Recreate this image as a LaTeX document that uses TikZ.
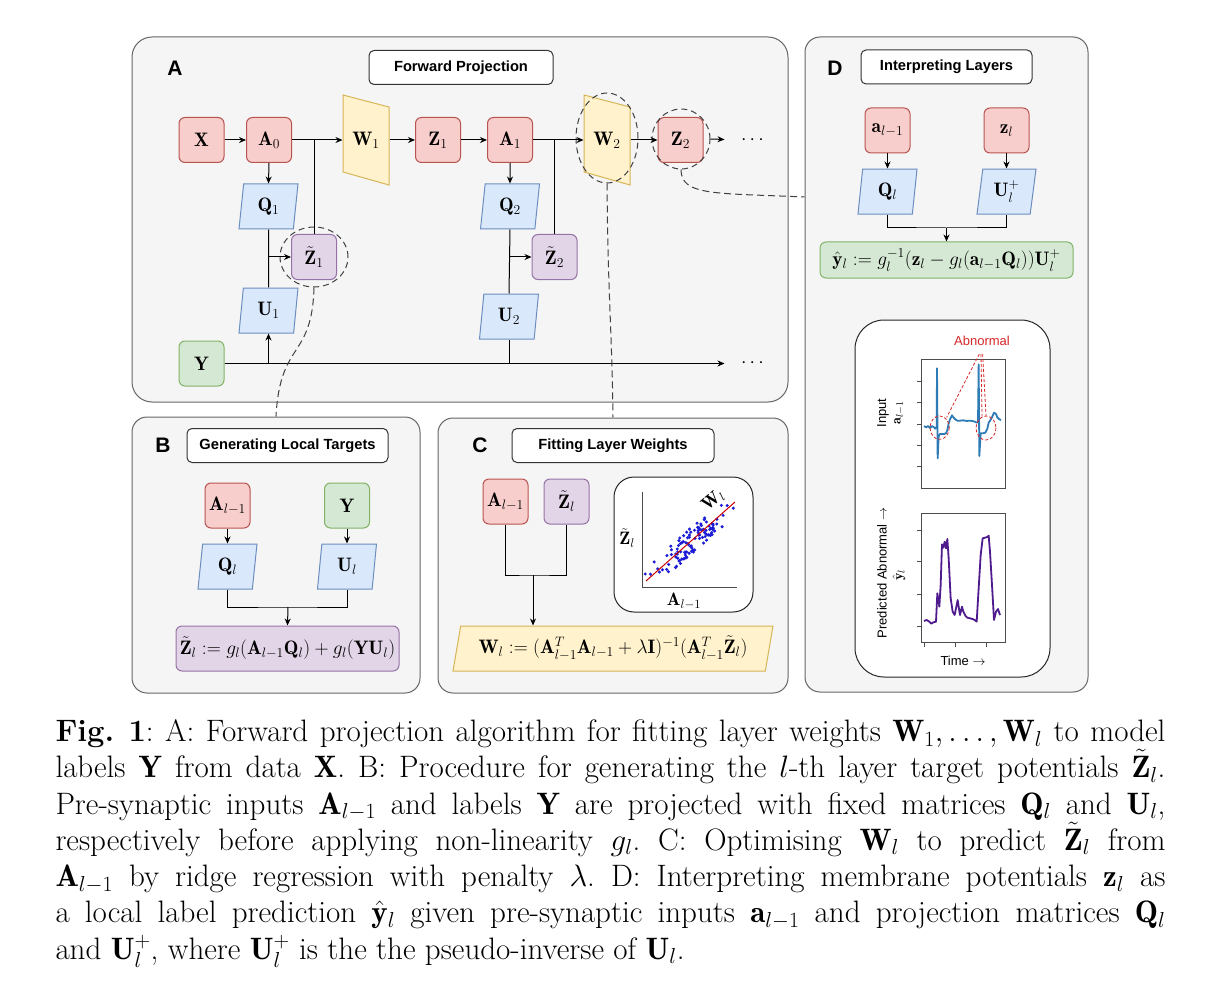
\documentclass[tikz,border=0pt]{standalone}
\usepackage{fix-cm}
\usepackage{amsmath}
\usepackage{fontspec}
\newfontfamily\helv{Liberation Sans}
\usetikzlibrary{arrows.meta, positioning, shapes.geometric, calc}

\definecolor{redfill}{HTML}{F8CECC}
\definecolor{redline}{HTML}{B85450}
\definecolor{yellowfill}{HTML}{FFF2CC}
\definecolor{yellowline}{HTML}{D6B656}
\definecolor{bluefill}{HTML}{DAE8FC}
\definecolor{blueline}{HTML}{6C8EBF}
\definecolor{greenfill}{HTML}{D5E8D4}
\definecolor{greenline}{HTML}{82B366}
\definecolor{purplefill}{HTML}{E1D5E7}
\definecolor{purpleline}{HTML}{9673A6}
\definecolor{panelfill}{HTML}{F5F5F5}
\definecolor{panelline}{HTML}{666666}
\definecolor{ecgblue}{HTML}{2F7BB5}
\definecolor{predpurple}{HTML}{4E1A8E}
\definecolor{dotblue}{HTML}{1C1CD6}
\definecolor{abnred}{HTML}{D62728}

\newcommand\mathsz{\fontsize{19.5}{23}\selectfont}
\newcommand\titlesz{\helv\bfseries\fontsize{14.7}{17}\selectfont}
\newcommand\lettersz{\helv\bfseries\fontsize{21}{24}\selectfont}
\newcommand\plotsz{\helv\fontsize{13}{15}\selectfont}
\newcommand\capsz{\fontsize{31}{36.3}\selectfont\frenchspacing}

\tikzset{
  panel/.style={draw=panelline, fill=panelfill, inner sep=0pt},
  titlebox/.style={draw=black!80, fill=white, rounded corners=5pt, minimum height=34pt, inner sep=0pt, font=\titlesz},
  letter/.style={font=\lettersz, inner sep=0pt},
  cellbox/.style={rounded corners=6pt, minimum width=45pt, minimum height=45pt, inner sep=0pt, font=\mathsz},
  redbox/.style={cellbox, draw=redline, fill=redfill},
  greenbox/.style={cellbox, draw=greenline, fill=greenfill},
  purplebox/.style={cellbox, draw=purpleline, fill=purplefill},
  para/.style={trapezium, trapezium stretches body, trapezium left angle=75, trapezium right angle=105,
    minimum width=59pt, minimum height=45pt, inner sep=0pt, draw=blueline, fill=bluefill, font=\mathsz},
  wshape/.style={draw=yellowline, fill=yellowfill},
  wlabel/.style={minimum width=46pt, minimum height=90pt, inner sep=0pt, font=\mathsz},
  ring/.style={ellipse, draw=black!75, dash pattern=on 6pt off 4pt, inner sep=0pt},
  dashlink/.style={draw=black!75, dash pattern=on 7pt off 4pt},
  whitebox/.style={draw=black!85, fill=white, inner sep=0pt},
  plotframe/.style={draw=black!70, line width=0.8pt},
  plotlab/.style={font=\plotsz, inner sep=0pt},
  scatlab/.style={font=\fontsize{18}{21}\selectfont, inner sep=0pt},
  abnline/.style={draw=abnred, line width=0.8pt, dash pattern=on 3pt off 2pt}
}

\begin{document}
\begin{tikzpicture}[x=1pt, y=-1pt, line width=1pt, >={Stealth[length=7pt,width=6pt]}]
\useasboundingbox (0,0) rectangle (1221,995);

% panels
\node[panel, minimum width=656pt, minimum height=365pt, rounded corners=20pt] (pA) at (460,219.5) {};
\node[panel, minimum width=288pt, minimum height=276pt, rounded corners=15pt] (pB) at (276,555) {};
\node[panel, minimum width=350pt, minimum height=275pt, rounded corners=15pt] (pC) at (613,555.5) {};
\node[panel, minimum width=283pt, minimum height=655pt, rounded corners=15pt] (pD) at (946.5,364.5) {};

\node[letter] (lA) at (175,68) {A};
\node[letter] (lB) at (163,445) {B};
\node[letter] (lC) at (480,445) {C};
\node[letter] (lD) at (835,68) {D};
\node[titlebox, minimum width=184pt] (tA) at (461,67.5) {Forward Projection};
\node[titlebox, minimum width=201pt] (tB) at (287.5,445.5) {Generating Local Targets};
\node[titlebox, minimum width=202pt] (tC) at (613,445.5) {Fitting Layer Weights};
\node[titlebox, minimum width=171pt] (tD) at (946.5,67) {Interpreting Layers};

% A: forward projection
\draw[wshape] (343,95) -- (389,107) -- (389,185) -- (343,172) -- cycle;
\draw[wshape] (584,95) -- (630,107) -- (630,185) -- (584,172) -- cycle;
\node[redbox] (x) at (201.5,140) {$\mathbf{X}$};
\node[redbox] (a0) at (269,140) {$\mathbf{A}_0$};
\node[wlabel] (w1) at (366,140) {$\mathbf{W}_1$};
\node[redbox] (z1) at (438,140) {$\mathbf{Z}_1$};
\node[redbox] (a1) at (510,140) {$\mathbf{A}_1$};
\node[wlabel] (w2) at (607,140) {$\mathbf{W}_2$};
\node[redbox] (z2) at (680.5,140) {$\mathbf{Z}_2$};
\node[font=\mathsz, inner sep=0pt] (dots1) at (754,140) {$\cdots$};
\node[para] (q1) at (268.5,206.5) {$\mathbf{Q}_1$};
\node[purplebox] (z1t) at (314,257) {$\tilde{\mathbf{Z}}_1$};
\node[para] (u1) at (268.5,310.5) {$\mathbf{U}_1$};
\node[greenbox] (y) at (201.5,363.5) {$\mathbf{Y}$};
\node[para] (q2) at (510,206.5) {$\mathbf{Q}_2$};
\node[purplebox] (z2t) at (554.5,257) {$\tilde{\mathbf{Z}}_2$};
\node[para] (u2) at (509,316.5) {$\mathbf{U}_2$};
\node[font=\mathsz, inner sep=0pt] (dots2) at (754,363.5) {$\cdots$};
\node[ring, minimum width=68pt, minimum height=60pt] (z1ring) at (z1t) {};
\node[ring, minimum width=62pt, minimum height=90pt] (w2ring) at (607,138) {};
\node[ring, minimum width=58pt, minimum height=60pt] (z2ring) at (681,139) {};

\draw[->] (x.east) -- (a0.west);
\draw[->] (a0.east) -- (w1.west);
\draw[->] (w1.east) -- (z1.west);
\draw[->] (z1.east) -- (a1.west);
\draw[->] (a1.east) -- (w2.west);
\draw[->] (w2.east) -- (z2.west);
\draw[->, shorten >=16pt] (z2ring.east) -- (dots1.west);
\draw[->] (a0.south) -- (q1.north);
\draw[->] (a1.south) -- (q2.north);
\draw (z1t.north |- a0.east) -- (z1t.north);
\draw (z2t.north |- a1.east) -- (z2t.north);
\draw (q1.south) -- (u1.north);
\draw (q2.south) -- (u2.north);
\draw[->] (q1.south |- z1t.west) -- (z1t.west);
\draw[->] (q2.south |- z2t.west) -- (z2t.west);
\draw[->, shorten >=16pt] (y.east) -- (dots2.west);
\draw[->] (u1.south |- y.east) -- (u1.south);
\draw (u2.south) -- (u2.south |- y.east);

% links to the detail panels
\coordinate (dIn) at (pD.west |- 0,197);
\draw[dashlink] (z1ring.south) .. controls (312,360) and (280,340) .. (pB.north);
\draw[dashlink] (w2ring.south) .. controls (608,300) and (612,330) .. (pC.north);
\draw[dashlink] (z2ring.south) .. controls (681,196) and (715,193) .. (dIn);

% B: local targets
\node[redbox] (alB) at (227.5,505.5) {$\mathbf{A}_{l-1}$};
\node[greenbox] (yB) at (347,505.5) {$\mathbf{Y}$};
\node[para, below=15pt of alB] (qlB) {$\mathbf{Q}_l$};
\node[para, below=15pt of yB] (ulB) {$\mathbf{U}_l$};
\node[purplebox, minimum width=223pt] (formB) at (287.5,648.5) {$\tilde{\mathbf{Z}}_l := g_l(\mathbf{A}_{l-1}\mathbf{Q}_l) + g_l(\mathbf{Y}\mathbf{U}_l)$};
\coordinate (bJoin) at (288,607);
\draw[->] (alB.south) -- (qlB.north);
\draw[->] (yB.south) -- (ulB.north);
\draw (qlB.south) |- (bJoin) -| (ulB.south);
\draw[->] (bJoin) -- (formB.north);

% C: layer weights
\node[redbox] (alC) at (505.5,501.5) {$\mathbf{A}_{l-1}$};
\node[purplebox, right=15pt of alC] (ztC) {$\tilde{\mathbf{Z}}_l$};
\node[para, draw=yellowline, fill=yellowfill, minimum width=320pt, trapezium left angle=72.7, trapezium right angle=107.3] (formC) at (613,648.5)
  {$\mathbf{W}_l := (\mathbf{A}_{l-1}^T\mathbf{A}_{l-1} + \lambda\mathbf{I})^{-1}(\mathbf{A}_{l-1}^T\tilde{\mathbf{Z}}_l)$};
\coordinate (cJoin) at (533,575);
\draw (alC.south) |- (cJoin) -| (ztC.south);
\draw[->] (cJoin) -- (cJoin |- formC.north);

\node[whitebox, minimum width=139pt, minimum height=135pt, rounded corners=20pt] (scbox) at (683.5,544.5) {};
\draw[plotframe] (642,492) -- (642,587) -- (737,587);
\coordinate (sc0) at (646,581);
\coordinate (sc1) at (735,502);
\pgfmathsetseed{7}
\foreach \k in {1,...,110}{
  \pgfmathsetmacro\tpos{\k<35 ? 0.03+0.94*rnd : 0.3+0.45*rnd}
  \pgfmathsetmacro\noff{10*rand}
  \fill[dotblue] ($(sc0)!\tpos!(sc1)$) ++(0.66*\noff,0.75*\noff) circle (1.7pt);
}
\draw[red!80!black] (sc0) -- (sc1);
\node[scatlab] (sclabz) at (627,538) {$\tilde{\mathbf{Z}}_l$};
\node[scatlab] (sclaba) at (684,601) {$\mathbf{A}_{l-1}$};
\node[scatlab, rotate=40] (sclabw) at (713,500) {$\mathbf{W}_l$};

% D: interpreting layers
\node[redbox] (alD) at (887.5,130.5) {$\mathbf{a}_{l-1}$};
\node[redbox] (zlD) at (1006.5,130.5) {$\mathbf{z}_l$};
\node[para, below=15pt of alD] (qlD) {$\mathbf{Q}_l$};
\node[para, below=15pt of zlD] (uplD) {$\mathbf{U}_l^+$};
\node[greenbox, minimum width=253pt, minimum height=36pt] (formD) at (946.5,260)
  {$\hat{\mathbf{y}}_l := g_l^{-1}(\mathbf{z}_l - g_l(\mathbf{a}_{l-1}\mathbf{Q}_l))\mathbf{U}_l^+$};
\coordinate (dJoin) at (946.5,228);
\draw[->] (alD.south) -- (qlD.north);
\draw[->] (zlD.south) -- (uplD.north);
\draw (qlD.south) |- (dJoin) -| (uplD.south);
\draw[->] (dJoin) -- (formD.north);

\node[whitebox, minimum width=195pt, minimum height=357pt, rounded corners=29pt] (plots) at (952.5,498.5) {};
% input trace
\draw[plotframe] (921,359) rectangle (1005,488);
\foreach \ty in {381.7,402.7,424,445.3,466.7} \draw[plotframe] (921,\ty) -- ++(-4.5,0);
\begin{scope}[shift={(900,330)}, scale=1/3]
  \draw[ecgblue, line width=1.8pt, line join=round] plot coordinates {(72,288) (78,292) (84,288) (90,294) (96,288) (102,292) (106,296) (110,290) (111,115) (113,385) (116,318) (120,312) (126,312) (132,312) (138,310) (142,300) (146,280) (150,268) (156,256) (160,262) (166,268) (172,272) (180,272) (190,271) (200,273) (210,272) (222,274) (230,278) (234,276) (236,103) (238,378) (242,310) (248,310) (256,308) (262,296) (266,278) (270,272) (276,262) (282,248) (288,252) (292,262) (298,268) (303,270)};
  \draw[abnline] (119,293) ellipse [x radius=29, y radius=35];
  \draw[abnline] (258,294) ellipse [x radius=30, y radius=36];
  \draw[abnline] (238,72) -- (140,262);
  \draw[abnline] (243,72) -- (246,258);
  \draw[abnline] (248,72) -- (258,258);
\end{scope}
\node[plotlab, text=abnred] (abn) at (982,341) {Abnormal};
\node[plotlab, rotate=90] (inlab) at (883,413) {Input};
\node[inner sep=0pt, rotate=90, font=\fontsize{14}{16}\selectfont] (inlab2) at (899,413) {$\mathbf{a}_{l-1}$};
% prediction trace
\draw[plotframe] (921,513) rectangle (1005,642);
\foreach \ty in {530,561.7,594.3,626.7} \draw[plotframe] (921,\ty) -- ++(-4.5,0);
\foreach \tx in {924,955,986} \draw[plotframe] (\tx,642) -- ++(0,4.5);
\begin{scope}[shift={(900,505)}, scale=1/3]
  \draw[predpurple, line width=1.8pt, line join=round] plot coordinates {(72,348) (80,345) (88,350) (94,356) (100,352) (108,350) (112,265) (118,305) (122,240) (126,118) (130,128) (134,110) (138,130) (142,102) (146,160) (152,280) (158,320) (164,330) (170,300) (173,285) (176,305) (180,330) (186,305) (190,320) (196,332) (202,338) (210,340) (218,342) (224,345) (230,350) (236,250) (242,150) (248,100) (255,98) (262,96) (266,92) (270,140) (276,240) (282,345) (288,320) (294,312) (300,330)};
\end{scope}
\node[plotlab, rotate=90] (predlab) at (882,573) {Predicted Abnormal $\rightarrow$};
\node[inner sep=0pt, rotate=90, font=\fontsize{14}{16}\selectfont] (predlab2) at (899,575) {$\hat{\mathbf{y}}_l$};
\node[plotlab] (timelab) at (963,661) {Time $\rightarrow$};

% caption
\node[anchor=north west, text width=1110pt, align=justify, inner sep=0pt, font=\capsz] (caption) at (55,719)
{\textbf{Fig.~1}: A: Forward projection algorithm for fitting layer weights $\mathbf{W}_1,\ldots,\mathbf{W}_l$ to model\linebreak
labels $\mathbf{Y}$ from data $\mathbf{X}$. B: Procedure for generating the $l$-th layer target potentials $\tilde{\mathbf{Z}}_l$.\linebreak
Pre-synaptic inputs $\mathbf{A}_{l-1}$ and labels $\mathbf{Y}$ are projected with fixed matrices $\mathbf{Q}_l$ and $\mathbf{U}_l$,\linebreak
respectively before applying non-linearity $g_l$. C: Optimising $\mathbf{W}_l$ to predict $\tilde{\mathbf{Z}}_l$ from\linebreak
$\mathbf{A}_{l-1}$ by ridge regression with penalty $\lambda$. D: Interpreting membrane potentials $\mathbf{z}_l$ as\linebreak
a local label prediction $\hat{\mathbf{y}}_l$ given pre-synaptic inputs $\mathbf{a}_{l-1}$ and projection matrices $\mathbf{Q}_l$\linebreak
and $\mathbf{U}_l^+$, where $\mathbf{U}_l^+$ is the the pseudo-inverse of $\mathbf{U}_l$.};
\end{tikzpicture}
\end{document}
